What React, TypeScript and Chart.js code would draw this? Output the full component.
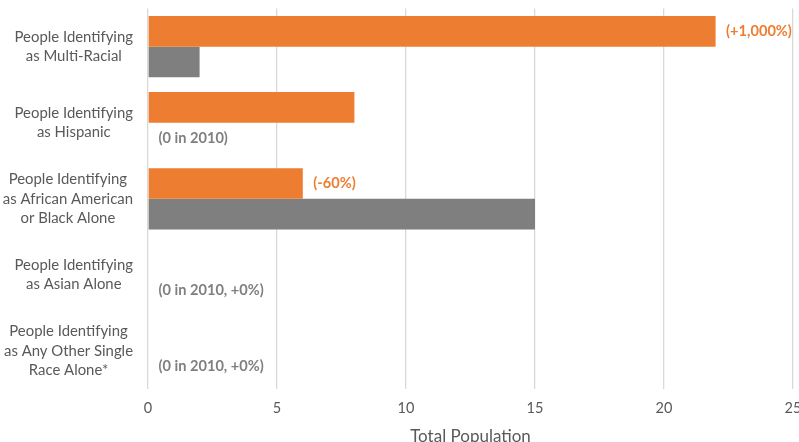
import React, { useEffect, useRef } from "react";
import { Chart, registerables } from "chart.js";

Chart.register(...registerables);

const categories: string[][] = [
  ["People Identifying", "as Multi-Racial"],
  ["People Identifying", "as Hispanic"],
  ["People Identifying", "as African American", "or Black Alone"],
  ["People Identifying", "as Asian Alone"],
  ["People Identifying", "as Any Other Single", "Race Alone*"],
];
const values2020 = [22, 8, 6, 0, 0];
const values2010 = [2, 0, 15, 0, 0];
const labels2020 = ["(+1,000%)", "", "(-60%)", "", ""];
const labels2010 = ["", "(0 in 2010)", "", "(0 in 2010, +0%)", "(0 in 2010, +0%)"];
const xTicks = [0, 5, 10, 15, 20, 25];

const ORANGE = "#ED7D31";
const GRAY = "#7F7F7F";
const TEXT = "#595959";
const FONT = "Lato, 'Open Sans', sans-serif";

const yLabelPlugin = {
  id: "yLabels",
  afterDraw(chart: any) {
    const { ctx, chartArea } = chart;
    const yScale = chart.scales.y;
    ctx.save();
    ctx.font = `14.9px ${FONT}`;
    ctx.fillStyle = TEXT;
    ctx.textAlign = "center";
    ctx.textBaseline = "middle";
    const lh = 19.3;
    const right = chartArea.left - 15;
    categories.forEach((lines, i) => {
      const y = yScale.getPixelForValue(i);
      const w = Math.max(...lines.map((l) => ctx.measureText(l).width));
      const cx = right - w / 2;
      const start = y - ((lines.length - 1) * lh) / 2;
      lines.forEach((l, j) => ctx.fillText(l, cx, start + j * lh));
    });
    ctx.restore();
  },
};

const barLabelPlugin = {
  id: "barLabels",
  afterDatasetsDraw(chart: any) {
    const { ctx } = chart;
    ctx.save();
    ctx.font = `bold 14.6px ${FONT}`;
    ctx.textAlign = "left";
    ctx.textBaseline = "middle";
    const sets = [
      { labels: labels2020, color: ORANGE, idx: 0 },
      { labels: labels2010, color: GRAY, idx: 1 },
    ];
    sets.forEach((s) => {
      const meta = chart.getDatasetMeta(s.idx);
      meta.data.forEach((bar: any, i: number) => {
        const t = s.labels[i];
        if (!t) return;
        ctx.fillStyle = s.color;
        ctx.fillText(t, bar.x + 10.5, bar.y);
      });
    });
    ctx.restore();
  },
};

export default function App() {
  const ref = useRef<HTMLCanvasElement>(null);
  useEffect(() => {
    if (!ref.current) return;
    const chart = new Chart(ref.current, {
      type: "bar",
      data: {
        labels: categories.map((c) => c.join(" ")),
        datasets: [
          {
            label: "2020",
            data: values2020,
            backgroundColor: ORANGE,
            borderWidth: 0,
            categoryPercentage: 0.805,
            barPercentage: 1,
          },
          {
            label: "2010",
            data: values2010,
            backgroundColor: GRAY,
            borderWidth: 0,
            categoryPercentage: 0.805,
            barPercentage: 1,
          },
        ],
      },
      options: {
        indexAxis: "y",
        animation: false,
        responsive: true,
        maintainAspectRatio: false,
        layout: { padding: { left: 148, right: 27, top: 8.6, bottom: 0 } },
        plugins: { legend: { display: false }, tooltip: { enabled: false } },
        scales: {
          x: {
            min: 0,
            max: 25,
            afterBuildTicks: (scale: any) => {
              scale.ticks = xTicks.map((v) => ({ value: v }));
            },
            afterFit: (scale: any) => {
              scale.height = 71;
            },
            ticks: {
              color: TEXT,
              font: { family: FONT, size: 14.5 },
              padding: 11,
            },
            grid: { color: "#D9D9D9", drawTicks: false, lineWidth: 1.3 },
            border: { display: false },
            title: {
              display: true,
              text: "Total Population",
              color: TEXT,
              font: { family: FONT, size: 17 },
              padding: { top: 0, bottom: 13 },
            },
          },
          y: {
            display: false,
          },
        },
      },
      plugins: [yLabelPlugin, barLabelPlugin],
    });
    return () => chart.destroy();
  }, []);
  return (
    <div
      style={{
        position: "fixed",
        top: 0,
        left: 0,
        width: 799,
        height: 442,
        overflow: "hidden",
        background: "#fff",
      }}
    >
      <div style={{ position: "relative", width: 820, height: 460 }}>
        <canvas ref={ref} />
      </div>
    </div>
  );
}
